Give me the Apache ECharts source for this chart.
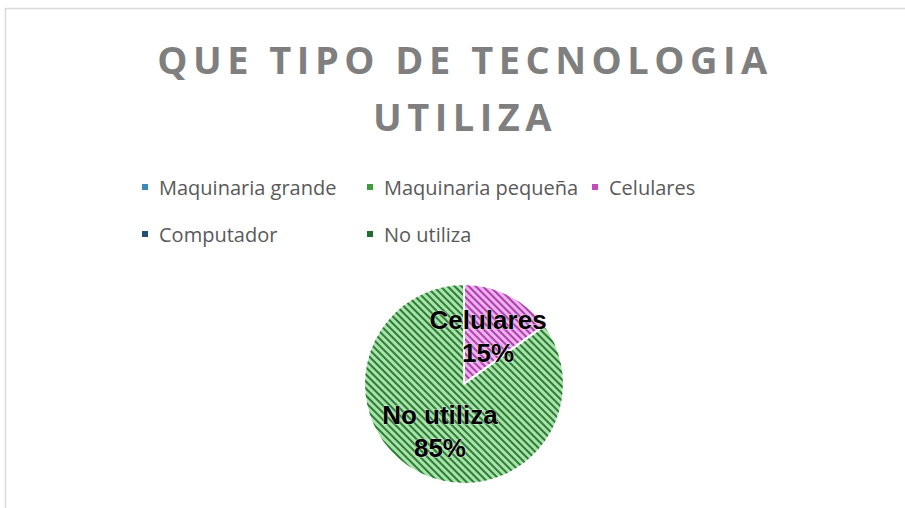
<!DOCTYPE html>
<html>
<head>
<meta charset="utf-8">
<script src="https://cdn.jsdelivr.net/npm/echarts@6/dist/echarts.min.js"></script>
<style>
  html, body { margin: 0; padding: 0; background: #fff; }
  #chart { width: 905px; height: 508px; }
  /* title letter spacing (svg renderer) */
  #chart text[style*="38px"] { letter-spacing: 5.5px; }
</style>
</head>
<body>
<div id="chart"></div>
<script>
const titleText = 'QUE TIPO DE TECNOLOGIA\nUTILIZA';
const categories = ['Maquinaria grande', 'Maquinaria pequeña', 'Celulares', 'Computador', 'No utiliza'];
const values = [0, 0, 15, 0, 85];
// slice fill / stripe colours and legend icon colours
const sliceColors = ['#a8d0e6', '#a0dca0', '#eeb2ee', '#8aa8c0', '#a8e4a8'];
const stripeColors = ['#2f7fae', '#2f8f2f', '#b040b0', '#1d4d6e', '#2e7a3a'];
const legendColors = ['#3a8bb8', '#3c9c3c', '#c04cc0', '#224f70', '#226e2c'];

const chart = echarts.init(document.getElementById('chart'), null, { renderer: 'svg' });

// legend is laid out as two rows of fixed-width columns
function legendRow(names, top) {
  return {
    left: 140,
    top: top,
    padding: 0,
    itemWidth: 8,
    itemHeight: 8,
    itemGap: 10,
    icon: 'rect',
    formatter: name => '{a|' + name + '}',
    data: names.map(c => ({
      name: c,
      itemStyle: { color: legendColors[categories.indexOf(c)], decal: 'none' }
    })),
    textStyle: {
      rich: {
        a: {
          fontFamily: 'Open Sans',
          fontSize: 20,
          lineHeight: 37,
          color: '#595959',
          width: 196,
          padding: [0, 0, 0, 5]
        }
      }
    }
  };
}

const option = {
  animation: false,
  backgroundColor: '#fff',
  graphic: [{
    type: 'rect',
    shape: { x: 5.5, y: 8.5, width: 920, height: 520 },
    style: { fill: 'none', stroke: '#d9d9d9', lineWidth: 1.5 },
    silent: true
  }],
  title: {
    text: titleText,
    left: 465,
    textAlign: 'center',
    top: 30,
    padding: 0,
    textStyle: {
      fontFamily: 'Open Sans',
      fontWeight: 'bold',
      fontSize: 38,
      lineHeight: 57,
      color: '#7f7f7f'
    }
  },
  legend: [
    legendRow(categories.slice(0, 3), 177),
    legendRow(categories.slice(3), 224)
  ],
  series: [{
    type: 'pie',
    radius: 100,
    center: [464, 384],
    startAngle: 90,
    clockwise: true,
    avoidLabelOverlap: false,
    itemStyle: { borderColor: '#fff', borderWidth: 2 },
    label: {
      position: 'inside',
      formatter: '{b}\n{d}%',
      fontFamily: 'Liberation Sans',
      fontWeight: 'bold',
      fontSize: 26,
      lineHeight: 33,
      color: '#000',
      textBorderColor: 'rgba(255,255,255,0.6)',
      textBorderWidth: 1
    },
    labelLine: { show: false },
    data: categories.map((c, i) => ({
      name: c,
      value: values[i],
      label: { show: values[i] > 0 },
      itemStyle: {
        color: sliceColors[i],
        decal: {
          symbol: 'rect',
          symbolSize: 1,
          dashArrayX: [1, 0],
          dashArrayY: [1.1, 2.8],
          rotation: Math.PI / 4,
          color: stripeColors[i]
        }
      }
    }))
  }]
};

chart.setOption(option);
</script>
</body>
</html>
